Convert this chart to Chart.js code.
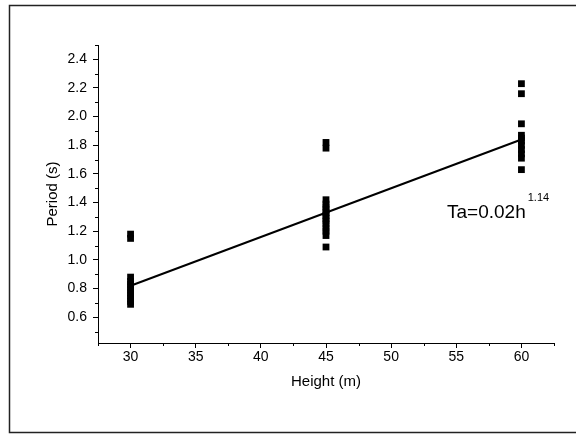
<!DOCTYPE html>
<html>
<head>
<meta charset="utf-8">
<script src="https://cdn.jsdelivr.net/npm/chart.js@4"></script>
<style>
  html, body { margin: 0; padding: 0; background: #fff; }
  #wrap { width: 576px; height: 435px; }
</style>
</head>
<body>
<div id="wrap"><canvas id="chart" width="576" height="435"></canvas></div>
<script>
// Building heights (m) and measured periods (s)
const heights = [30, 45, 60];
const periods30 = [0.69, 0.71, 0.73, 0.75, 0.77, 0.79, 0.81, 0.83, 0.85, 0.88, 1.15, 1.18];
const periods45 = [1.09, 1.17, 1.20, 1.22, 1.25, 1.27, 1.29, 1.31, 1.33, 1.35, 1.37, 1.39, 1.42, 1.78, 1.82];
const periods60 = [1.63, 1.71, 1.74, 1.77, 1.80, 1.83, 1.85, 1.87, 1.95, 2.16, 2.23];

// Fitted curve Ta = 0.02 h^1.14 (end points)
const fitX = [30, 60];
const fitY = [0.82, 1.84];

const xTicks = [30, 35, 40, 45, 50, 55, 60];
const yTicks = [0.6, 0.8, 1.0, 1.2, 1.4, 1.6, 1.8, 2.0, 2.2, 2.4];

const FONT = 'Liberation Sans, Arial, sans-serif';

function toPoints(h, list) {
    return list.map(function (p) { return { x: h, y: p }; });
}

const scatterData = []
    .concat(toPoints(heights[0], periods30))
    .concat(toPoints(heights[1], periods45))
    .concat(toPoints(heights[2], periods60));

const fitData = fitX.map(function (x, i) { return { x: x, y: fitY[i] }; });

// minor ticks, frame and the equation label
const extras = {
    id: 'extras',
    afterDraw: function (chart) {
        const ctx = chart.ctx;
        const xs = chart.scales.x;
        const ys = chart.scales.y;
        const area = chart.chartArea;
        ctx.save();
        ctx.strokeStyle = '#000';
        ctx.lineWidth = 1;
        ctx.beginPath();
        // minor ticks halfway between majors
        for (let v = xs.min; v <= xs.max + 1e-6; v += 2.5) {
            if (xTicks.indexOf(Math.round(v * 10) / 10) !== -1) continue;
            const px = Math.round(xs.getPixelForValue(v)) + 0.5;
            ctx.moveTo(px, area.bottom);
            ctx.lineTo(px, area.bottom + 3);
        }
        for (let i = 0; i <= yTicks.length; i++) {
            const v = 0.5 + i * 0.2;
            if (v > ys.max + 1e-6) break;
            const py = Math.round(ys.getPixelForValue(v)) + 0.5;
            ctx.moveTo(area.left, py);
            ctx.lineTo(area.left - 3, py);
        }
        ctx.stroke();

        // outer frame
        ctx.lineWidth = 1.5;
        ctx.strokeStyle = '#222';
        ctx.strokeRect(9.5, 5.5, 600, 427);

        // equation
        ctx.fillStyle = '#000';
        ctx.textBaseline = 'alphabetic';
        ctx.font = '19px ' + FONT;
        const main = 'Ta=0.02h';
        ctx.fillText(main, 447, 218);
        const w = ctx.measureText(main).width;
        ctx.font = '11px ' + FONT;
        ctx.fillText('1.14', 447 + w + 2, 201);
        ctx.restore();
    }
};

new Chart(document.getElementById('chart'), {
    type: 'scatter',
    data: {
        datasets: [{
            label: 'Period',
            data: scatterData,
            pointStyle: 'rect',
            pointRadius: 4.8,
            pointBackgroundColor: '#000',
            pointBorderWidth: 0,
            showLine: false
        }, {
            label: 'Fit',
            data: fitData,
            showLine: true,
            borderColor: '#000',
            borderWidth: 2,
            pointRadius: 0,
            fill: false
        }]
    },
    options: {
        responsive: false,
        animation: false,
        layout: { padding: { left: 0, right: 22, top: 45, bottom: 0 } },
        plugins: {
            legend: { display: false },
            tooltip: { enabled: false }
        },
        scales: {
            x: {
                type: 'linear',
                min: 27.5,
                max: 62.5,
                afterBuildTicks: function (scale) {
                    scale.ticks = xTicks.map(function (v) { return { value: v }; });
                },
                afterFit: function (scale) { scale.height = 92; },
                grid: { drawOnChartArea: false, drawTicks: true, tickLength: 5, color: '#000' },
                border: { color: '#000', width: 1 },
                ticks: { color: '#000', padding: 1, maxRotation: 0, font: { family: FONT, size: 14 } },
                title: {
                    display: true,
                    text: 'Height (m)',
                    color: '#000',
                    font: { family: FONT, size: 15 },
                    padding: { top: 0, bottom: 44 }
                }
            },
            y: {
                type: 'linear',
                min: 0.42,
                max: 2.5,
                afterBuildTicks: function (scale) {
                    scale.ticks = yTicks.map(function (v) { return { value: v }; });
                },
                afterFit: function (scale) { scale.width = 98; },
                grid: { drawOnChartArea: false, drawTicks: true, tickLength: 5, color: '#000' },
                border: { color: '#000', width: 1 },
                ticks: {
                    color: '#000',
                    padding: 6,
                    font: { family: FONT, size: 14 },
                    callback: function (v) { return v.toFixed(1); }
                },
                title: {
                    display: true,
                    text: 'Period (s)',
                    color: '#000',
                    font: { family: FONT, size: 15 },
                    padding: { top: 44, bottom: 0 }
                }
            }
        }
    },
    plugins: [extras]
});
</script>
</body>
</html>
